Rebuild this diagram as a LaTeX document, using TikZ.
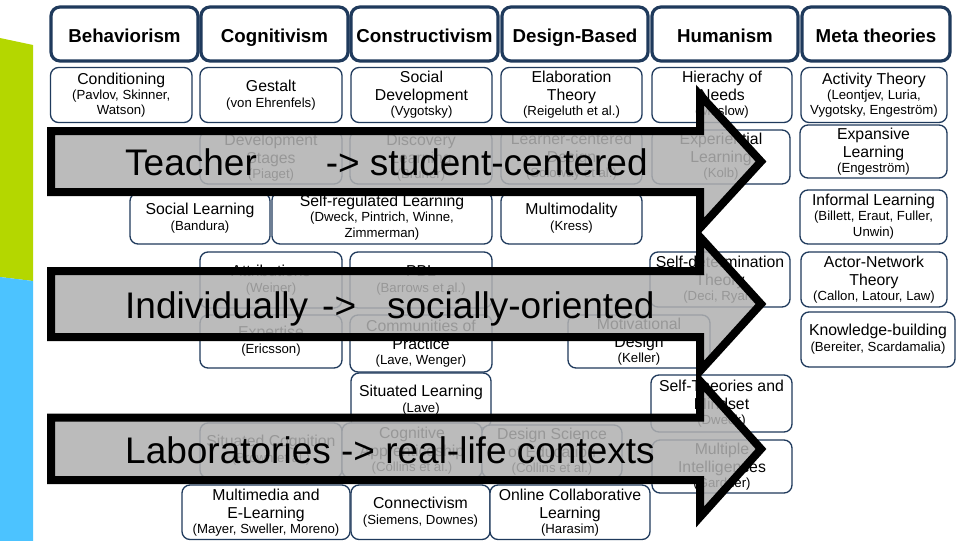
\documentclass[tikz,border=0pt]{standalone}
\usepackage{fontspec}
\setmainfont{Liberation Sans}
\definecolor{navy}{HTML}{1F3A5C}
\definecolor{lime}{HTML}{B4D700}
\definecolor{skyb}{HTML}{4CC3FF}
\definecolor{arrowgray}{HTML}{B0B0B0}
\newcommand\sm[1]{{\fontsize{13.2}{15}\selectfont #1}}
\newcommand\tbx[6]{\node[sbox, minimum width={#4-#2}, minimum height={#5-#3}] (#1) at ({(#2+#4)/2},{(#3+#5)/2}) {#6};}
\newcommand\hbx[6]{\node[hdr, minimum width={#4-#2}, minimum height={#5-#3}] (#1) at ({(#2+#4)/2},{(#3+#5)/2}) {#6};}
\tikzset{
 hdr/.style={draw=navy, line width=3.2pt, rounded corners=9pt, fill=white, font=\fontsize{18.7}{22}\selectfont\bfseries, align=center, inner sep=0pt, text height=18pt, text depth=2pt},
 sbox/.style={draw=navy, line width=1.3pt, rounded corners=8pt, fill=white, font=\fontsize{15.8}{18}\selectfont, align=center, inner sep=0pt},
 bigarrow/.style={draw=black, line width=8pt, line join=miter, fill=arrowgray, fill opacity=0.86},
 arrowtext/.style={font=\fontsize{37}{40}\selectfont, anchor=base west, inner sep=0pt, text=black}
}
\begin{document}
\begin{tikzpicture}[x=1pt,y=-1pt]
\useasboundingbox (0,0) rectangle (959,541);
\fill[white] (0,0) rectangle (959,541);
% left decoration
\fill[lime] (0,38) -- (33,45) -- (33,281) -- (0,277) -- cycle;
\fill[skyb] (0,277) -- (33,281) -- (33,541) -- (0,541) -- cycle;
% headers
\hbx{hB}{51}{7}{198}{61}{Behaviorism}
\hbx{hC}{201}{7}{348}{61}{Cognitivism}
\hbx{hK}{351}{7}{498}{61}{Constructivism}
\hbx{hD}{502}{7}{648}{61}{Design-Based}
\hbx{hH}{652}{7}{798}{61}{Humanism}
\hbx{hM}{802}{7}{950}{61}{Meta theories}
% row a
\tbx{a1}{50.5}{67.5}{192}{122.5}{Conditioning\\[-3pt]\sm{(Pavlov, Skinner,}\\[-3.5pt]\sm{Watson)}}
\tbx{a2}{200}{67.5}{342}{122.5}{Gestalt\\[-2pt]\sm{(von Ehrenfels)}}
\tbx{a3}{351}{67.5}{492}{122.5}{Social\\Development\\[-3pt]\sm{(Vygotsky)}}
\tbx{a4}{501}{67.5}{642}{122.5}{Elaboration\\Theory\\[-3pt]\sm{(Reigeluth et al.)}}
\tbx{a5}{652}{67.5}{792}{122.5}{Hierachy of\\Needs\\[-3pt]\sm{(Maslow)}}
\tbx{a6}{801}{67.5}{947}{122.5}{Activity Theory\\[-3pt]\sm{(Leontjev, Luria,}\\[-3.5pt]\sm{Vygotsky, Engeström)}}
% row b
\tbx{b1}{200}{131}{342}{184}{Development\\Stages\\[-3pt]\sm{(Piaget)}}
\tbx{b2}{350}{131}{492}{184}{Discovery\\Learning\\[-3pt]\sm{(Bruner)}}
\tbx{b3}{501}{130}{642}{184}{Learner-centered\\Design\\[-3pt]\sm{(Soloway et al.)}}
\tbx{b4}{652}{130}{790}{184}{Experiential\\Learning\\[-3pt]\sm{(Kolb)}}
\tbx{b5}{800}{125}{947}{178}{Expansive\\Learning\\[-3pt]\sm{(Engeström)}}
% row c
\tbx{c1}{130}{193}{270}{244}{Social Learning\\[-2pt]\sm{(Bandura)}}
\tbx{c2}{272}{192}{492}{244}{Self-regulated Learning\\[-3pt]\sm{(Dweck, Pintrich, Winne,}\\[-2pt]\sm{Zimmerman)}}
\tbx{c3}{501}{193}{642}{244}{Multimodality\\[-2pt]\sm{(Kress)}}
\tbx{c4}{800}{190}{947}{244}{Informal Learning\\[-3pt]\sm{(Billett, Eraut, Fuller,}\\[-2pt]\sm{Unwin)}}
% row d
\tbx{d1}{200}{252}{342}{308}{Attributions\\[-2pt]\sm{(Weiner)}}
\tbx{d2}{350}{252}{492}{308}{PBL\\[-2pt]\sm{(Barrows et al.)}}
\tbx{d3}{650}{252}{790}{307}{Self-determination\\Theory\\[-3pt]\sm{(Deci, Ryan)}}
\tbx{d4}{801}{252}{947}{307}{Actor-Network\\Theory\\[-3pt]\sm{(Callon, Latour, Law)}}
% row e
\tbx{e1}{200}{315}{342}{368}{Expertise\\[-2pt]\sm{(Ericsson)}}
\tbx{e2}{350}{315}{492}{372}{Communities of\\Practice\\[-3pt]\sm{(Lave, Wenger)}}
\tbx{e3}{568}{315}{710}{368}{Motivational\\Design\\[-3pt]\sm{(Keller)}}
\tbx{e4}{801}{312}{955}{367}{Knowledge-building\\[-2pt]\sm{(Bereiter, Scardamalia)}}
% row f
\tbx{f1}{351}{373}{491}{428}{Situated Learning\\[-2pt]\sm{(Lave)}}
\tbx{f2}{651}{375}{792}{432}{Self-Theories and\\Mindset\\[-3pt]\sm{(Dweck)}}
% row g
\tbx{g1}{200}{423}{342}{478}{Situated Cognition\\[-2pt]\sm{(Brown et al.)}}
\tbx{g2}{342}{423}{482}{478}{Cognitive\\Apprenticeship\\[-3pt]\sm{(Collins et al.)}}
\tbx{g3}{482}{425}{622}{478}{Design Science\\of Education\\[-3pt]\sm{(Collins et al.)}}
\tbx{g4}{652}{440}{792}{493}{Multiple\\Intelligences\\[-3pt]\sm{(Gardner)}}
% row h
\tbx{h1}{182}{485}{350}{539.5}{Multimedia and\\E-Learning\\[-3pt]\sm{(Mayer, Sweller, Moreno)}}
\tbx{h2}{351}{485}{490}{539.5}{Connectivism\\[-2pt]\sm{(Siemens, Downes)}}
\tbx{h3}{490}{485}{650}{539.5}{Online Collaborative\\Learning\\[-3pt]\sm{(Harasim)}}
% arrows
\draw[bigarrow] (51,131) -- (700,131) -- (700,95) -- (761,161.5) -- (700,228) -- (700,192) -- (51,192) -- cycle;
\draw[bigarrow] (51,271) -- (700,271) -- (700,237) -- (761,304) -- (700,371) -- (700,337) -- (51,337) -- cycle;
\draw[bigarrow] (51,417.5) -- (700,417.5) -- (700,381) -- (761,449) -- (700,517) -- (700,480) -- (51,480) -- cycle;
\node[arrowtext] (t1) at (125,175.5) {Teacher\hspace{69pt}-> student-centered};
\node[arrowtext] (t2) at (125,318) {Individually\hspace{14pt}->\hspace{31pt}socially-oriented};
\node[arrowtext] (t3) at (125,463) {Laboratories -> real-life contexts};
\end{tikzpicture}
\end{document}
